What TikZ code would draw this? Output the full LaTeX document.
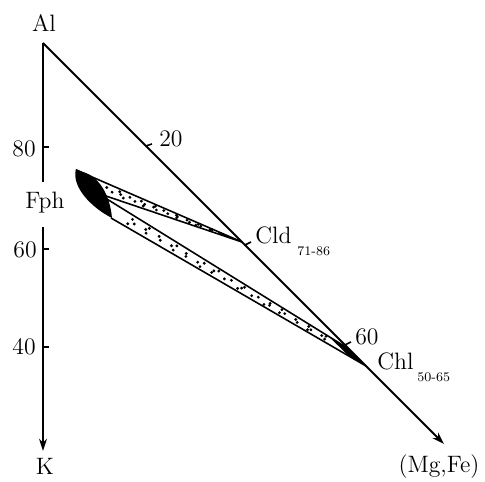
\documentclass[tikz,border=0pt]{standalone}
\usetikzlibrary{arrows.meta,calc}
\begin{document}
\begin{tikzpicture}[x=0.02cm,y=-0.02cm,
  axisline/.style={line width=1.1pt},
  bandline/.style={line width=0.9pt},
  tickmark/.style={line width=0.9pt},
  lbl/.style={font=\fontsize{13.5}{16}\selectfont, inner sep=0pt},
  sub/.style={font=\fontsize{7.5}{9}\selectfont, inner sep=0pt},
  arr/.style={-{Stealth[length=7pt,width=4.5pt]}}]
\useasboundingbox (0,0) rectangle (485,482);
% key points
\coordinate (Al) at (43,43);
\coordinate (AxA) at (43,182);
\coordinate (AxB) at (43,227);
\coordinate (Kend) at (43,451);
\coordinate (MgFe) at (444,444);
\coordinate (T) at (76,170);
\coordinate (B) at (100,194);
\coordinate (L1) at (102,196);
\coordinate (L2) at (111,218);
\coordinate (C1) at (242,242);
\coordinate (P) at (349,349);
\coordinate (C2) at (366,366);
% axes
\draw[axisline] (Al) -- (AxA);
\draw[axisline,arr] (AxB) -- (Kend);
\draw[axisline,arr] (Al) -- (MgFe);
% ticks on vertical axis
\coordinate (t80) at (43,147); \coordinate (t80e) at (49,147);
\coordinate (t60) at (43,249); \coordinate (t60e) at (49,249);
\coordinate (t40) at (43,347); \coordinate (t40e) at (49,347);
\draw[tickmark] (t80) -- (t80e);
\draw[tickmark] (t60) -- (t60e);
\draw[tickmark] (t40) -- (t40e);
% ticks on diagonal
\coordinate (d20) at (146,146); \coordinate (d20e) at (152,144);
\coordinate (dC) at (245,245); \coordinate (dCe) at (251,242);
\coordinate (d60) at (345,345); \coordinate (d60e) at (351,342);
\draw[tickmark] (d20) -- (d20e);
\draw[tickmark] (dC) -- (dCe);
\draw[tickmark] (d60) -- (d60e);
% bands
\draw[bandline] (T) -- (C1);
\draw[bandline] (B) -- (C1);
\draw[bandline] (L1) -- (P);
\draw[bandline] (L2) -- (C2);
% black blob at the left end
\fill (76,169) .. controls (71,187) and (92,208) .. (112,218)
  .. controls (110,196) and (100,177) .. (83,172) -- cycle;
% black wedges at the ends
\fill ($(T)!0.85!(C1)$) -- ($(B)!0.85!(C1)$) -- (C1) -- cycle;
\fill ($(L1)!0.92!(P)$) -- (P) -- (C2) -- ($(L2)!0.93!(C2)$) -- cycle;
% dots
\foreach \i in {1,...,26}{
  \pgfmathsetmacro\dta{0.12+0.72*(\i-0.5)/26+0.02*sin(\i*137)}
  \pgfmathsetmacro\dsa{0.22+0.56*mod(\i*0.618034,1)}
  \fill ($ ($(T)!\dta!(C1)$)!\dsa!($(B)!\dta!(C1)$) $) circle[radius=0.9pt];
}
\foreach \i in {1,...,40}{
  \pgfmathsetmacro\dta{0.07+0.83*(\i-0.5)/40+0.01*sin(\i*211)}
  \pgfmathsetmacro\dsa{0.2+0.6*mod(\i*0.618034+0.3,1)}
  \fill ($ ($(L1)!\dta!(P)$)!\dsa!($(L2)!\dta!(C2)$) $) circle[radius=0.9pt];
}
% labels
\node[lbl] (lAl) at (44,23) {Al};
\node[lbl,anchor=east] (l80) at (36,149) {80};
\node[lbl] (lFph) at (45,203) {Fph};
\node[lbl,anchor=east] (l60) at (37,250) {60};
\node[lbl,anchor=east] (l40) at (36,347) {40};
\node[lbl] (lK) at (45,466) {K};
\node[lbl,anchor=west] (l20) at (159,139) {20};
\node[lbl,anchor=west] (lCld) at (255,235) {Cld};
\node[sub,anchor=west] (sCld) at (297,251) {71-86};
\node[lbl,anchor=west] (l60d) at (355,337) {60};
\node[lbl,anchor=west] (lChl) at (377,361) {Chl};
\node[sub,anchor=west] (sChl) at (417,377) {50-65};
\node[lbl] (lMgFe) at (439,467) {(Mg,Fe)};
\end{tikzpicture}
\end{document}
